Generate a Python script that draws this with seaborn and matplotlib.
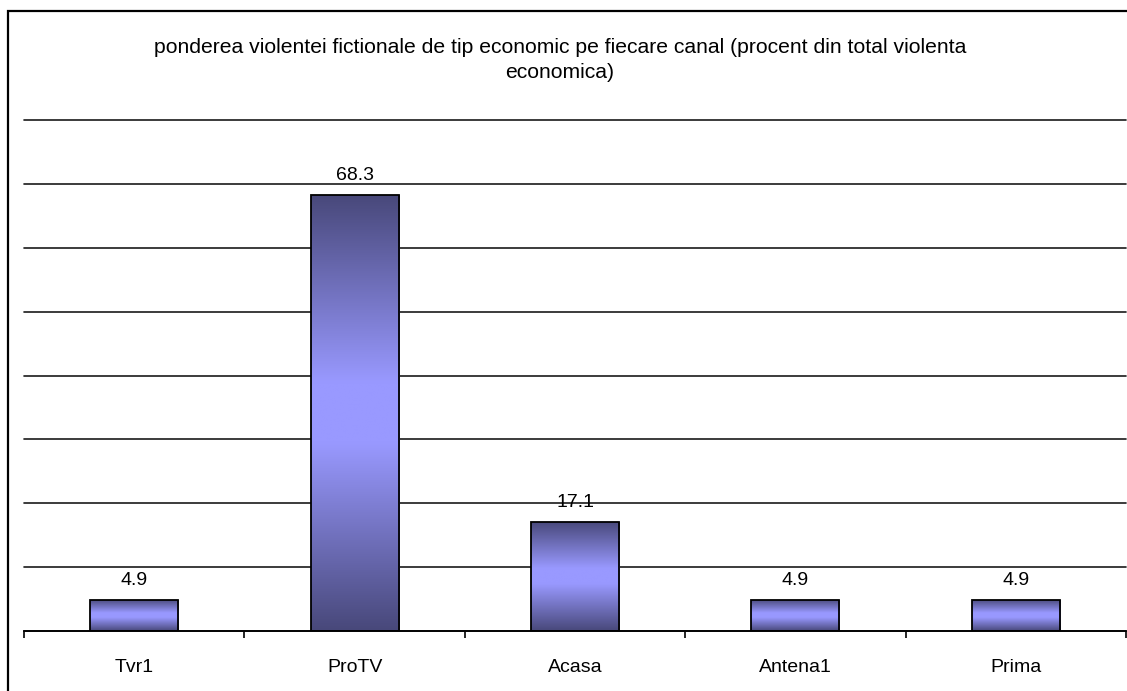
import numpy as np
import pandas as pd
import matplotlib
matplotlib.use("Agg")
import matplotlib.pyplot as plt
import seaborn as sns
from matplotlib.colors import LinearSegmentedColormap
from matplotlib.patches import Rectangle

# -------------------- DATA --------------------
channels = ["Tvr1", "ProTV", "Acasa", "Antena1", "Prima"]
shares = [4.9, 68.3, 17.1, 4.9, 4.9]
title = ("ponderea violentei fictionale de tip economic pe fiecare canal (procent din total violenta\n"
         "economica)")

df = pd.DataFrame({"canal": channels, "procent": shares})

# -------------------- STYLE --------------------
sns.set_style("white")
plt.rcParams["font.family"] = ["Liberation Sans", "DejaVu Sans"]
plt.rcParams["text.color"] = "black"
plt.rcParams["xtick.color"] = "black"

fig = plt.figure(figsize=(11.27, 6.91), dpi=100)
ax = fig.add_axes([24 / 1127, 1 - 631 / 691, (1126 - 24) / 1127, (631 - 120) / 691])

sns.barplot(data=df, x="canal", y="procent", ax=ax, width=0.40,
            color="#9999ff", edgecolor="black", linewidth=1.3, saturation=1)

# vertical dark-light-dark gradient inside each bar (Excel style)
grad = LinearSegmentedColormap.from_list(
    "xl", [(0, "#48487a"), (0.43, "#9999ff"), (0.57, "#9999ff"), (1, "#48487a")])
col = np.linspace(0, 1, 256).reshape(-1, 1)
for p in ax.patches:
    x0, y0 = p.get_x(), p.get_y()
    w, h = p.get_width(), p.get_height()
    im = ax.imshow(col, cmap=grad, aspect="auto", extent=[x0, x0 + w, y0, y0 + h],
                   zorder=p.get_zorder() - 0.1, origin="lower", interpolation="bicubic")
    im.set_clip_path(p)
    p.set_facecolor("none")
    ax.annotate(f"{h:.1f}", (x0 + w / 2, h), xytext=(0, 14), textcoords="offset points",
                ha="center", va="center", fontsize=14, color="black")

ax.set_xlim(-0.5, len(channels) - 0.5)
ax.set_ylim(0, 80)
ax.set_yticks(np.arange(0, 81, 10))
ax.set_yticklabels([])
ax.tick_params(axis="y", length=0)
ax.grid(axis="y", color="#1a1a1a", linewidth=1.2)
for gl in ax.get_ygridlines():
    gl.set_clip_on(False)
ax.set_axisbelow(True)

ax.set_xticks(np.arange(-0.5, len(channels), 1.0), minor=True)
ax.tick_params(axis="x", which="minor", bottom=True, length=5, width=1.2,
               color="black", direction="out")
ax.tick_params(axis="x", which="major", length=0, pad=20, labelsize=14,
               labelcolor="black")
ax.set_xlabel("")
ax.set_ylabel("")

for s in ["left", "right", "top"]:
    ax.spines[s].set_visible(False)
ax.spines["bottom"].set_color("black")
ax.spines["bottom"].set_linewidth(1.3)

fig.text(560 / 1127, 1 - 60 / 691, title, ha="center", va="center", color="black",
         fontsize=15.2, linespacing=1.4, multialignment="center")

# outer chart border (runs off the right/bottom edge as in the original)
fig.patches.append(Rectangle((8 / 1127, -0.02), 1.05, 1 - 11 / 691 + 0.02,
                             transform=fig.transFigure, fill=False,
                             edgecolor="black", linewidth=1.6))

fig.savefig("out.png", dpi=100)
